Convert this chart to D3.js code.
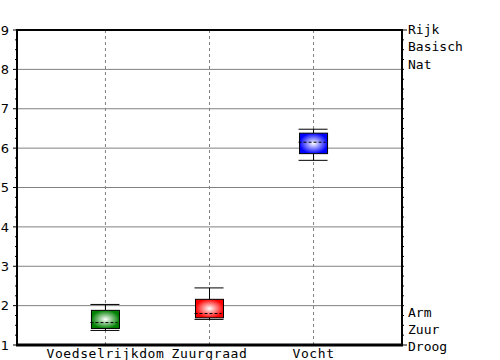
<!DOCTYPE html>
<html>
<head>
<meta charset="utf-8">
<script src="https://cdn.jsdelivr.net/npm/d3@7"></script>
<style>
  body { margin: 0; background: #fff; }
</style>
</head>
<body>
<div id="chart"></div>
<script>
// data
const categories = ["Voedselrijkdom", "Zuurgraad", "Vocht"];
const whiskerLow  = [1.37, 1.65, 5.69];
const boxLow      = [1.42, 1.69, 5.86];
const medians     = [1.57, 1.80, 6.15];
const boxHigh     = [1.88, 2.16, 6.38];
const whiskerHigh = [2.03, 2.45, 6.48];
const boxColors   = ["#008000", "#ff0000", "#0000ff"];
const yTicks      = [1, 2, 3, 4, 5, 6, 7, 8, 9];
const rightTopLabels = ["Rijk", "Basisch", "Nat"];
const rightBottomLabels = ["Arm", "Zuur", "Droog"];

const width = 500, height = 360;
const mLeft = 17, mRight = 402, mTop = 30, mBottom = 345;

const svg = d3.select("#chart")
  .append("svg")
    .attr("width", width)
    .attr("height", height);

const x = d3.scalePoint()
  .domain(categories)
  .range([mLeft, mRight])
  .padding(0.85);

const y = d3.scaleLinear()
  .domain([1, 9])
  .range([mBottom, mTop]);

// gradients for the boxes
const defs = svg.append("defs");
boxColors.forEach(function(c, i) {
  const g = defs.append("radialGradient")
    .attr("id", "grad" + i)
    .attr("cx", "50%").attr("cy", "50%").attr("r", "60%");
  g.append("stop").attr("offset", "0%").attr("stop-color", "#ffffff");
  g.append("stop").attr("offset", "85%").attr("stop-color", c);
});

// horizontal grid
svg.append("g")
  .selectAll("line")
  .data(yTicks.slice(1, -1))
  .join("line")
    .attr("x1", mLeft).attr("x2", mRight)
    .attr("y1", d => y(d)).attr("y2", d => y(d))
    .attr("stroke", "#808080")
    .attr("stroke-width", 1);

// vertical dashed grid
svg.append("g")
  .selectAll("line")
  .data(categories)
  .join("line")
    .attr("x1", d => x(d)).attr("x2", d => x(d))
    .attr("y1", mTop).attr("y2", mBottom)
    .attr("stroke", "#808080")
    .attr("stroke-dasharray", "3,3");

// left + right axis ticks (major + minor)
const minor = d3.range(1, 9.01, 0.25);
svg.append("g")
  .selectAll("line")
  .data(minor)
  .join("line")
    .attr("x1", d => Number.isInteger(d) ? mLeft - 4 : mLeft - 2)
    .attr("x2", mLeft)
    .attr("y1", d => y(d)).attr("y2", d => y(d))
    .attr("stroke", "#000");

svg.append("g")
  .selectAll("line")
  .data(minor)
  .join("line")
    .attr("x1", mRight)
    .attr("x2", d => (d === 1 || d === 9) ? mRight + 5 : mRight + 2)
    .attr("y1", d => y(d)).attr("y2", d => y(d))
    .attr("stroke", "#000");

svg.append("g")
  .selectAll("text")
  .data(yTicks)
  .join("text")
    .attr("x", mLeft - 8)
    .attr("y", d => y(d))
    .attr("dy", "0.36em")
    .attr("text-anchor", "end")
    .style("font-family", "DejaVu Sans")
    .style("font-size", "13px")
    .text(d => d);

// right labels
svg.append("g")
  .selectAll("text")
  .data(rightTopLabels)
  .join("text")
    .attr("x", mRight + 6)
    .attr("y", (d, i) => y(9) + i * 17.5)
    .attr("dy", "0.3em")
    .style("font-family", "DejaVu Sans Mono")
    .style("font-size", "13px")
    .text(d => d);

svg.append("g")
  .selectAll("text")
  .data(rightBottomLabels)
  .join("text")
    .attr("x", mRight + 6)
    .attr("y", (d, i) => y(1) + 2 - (2 - i) * 17)
    .attr("dy", "0.3em")
    .style("font-family", "DejaVu Sans Mono")
    .style("font-size", "13px")
    .text(d => d);

// boxes
const bw = 28;
const boxes = svg.append("g")
  .selectAll("g")
  .data(categories)
  .join("g");

boxes.append("line")
  .attr("x1", d => x(d)).attr("x2", d => x(d))
  .attr("y1", (d, i) => y(whiskerHigh[i])).attr("y2", (d, i) => y(boxHigh[i]))
  .attr("stroke", "#000");
boxes.append("line")
  .attr("x1", d => x(d)).attr("x2", d => x(d))
  .attr("y1", (d, i) => y(whiskerLow[i])).attr("y2", (d, i) => y(boxLow[i]))
  .attr("stroke", "#000");
boxes.append("line")
  .attr("x1", d => x(d) - bw / 2 - 1).attr("x2", d => x(d) + bw / 2)
  .attr("y1", (d, i) => y(whiskerHigh[i])).attr("y2", (d, i) => y(whiskerHigh[i]))
  .attr("stroke", "#000");
boxes.append("line")
  .attr("x1", d => x(d) - bw / 2 - 1).attr("x2", d => x(d) + bw / 2)
  .attr("y1", (d, i) => y(whiskerLow[i])).attr("y2", (d, i) => y(whiskerLow[i]))
  .attr("stroke", "#000");
boxes.append("rect")
  .attr("x", d => x(d) - bw / 2)
  .attr("y", (d, i) => y(boxHigh[i]))
  .attr("width", bw)
  .attr("height", (d, i) => y(boxLow[i]) - y(boxHigh[i]))
  .attr("fill", (d, i) => "url(#grad" + i + ")")
  .attr("stroke", "#000");
boxes.append("line")
  .attr("x1", d => x(d) - bw / 2 - 1).attr("x2", d => x(d) + bw / 2 - 2)
  .attr("y1", (d, i) => y(medians[i])).attr("y2", (d, i) => y(medians[i]))
  .attr("stroke", "#000")
  .attr("stroke-dasharray", "3,2");

// frame
svg.append("line").attr("x1", mLeft).attr("x2", mRight).attr("y1", mTop).attr("y2", mTop)
  .attr("stroke", "#000").attr("stroke-width", 2);
svg.append("line").attr("x1", mLeft).attr("x2", mLeft).attr("y1", mTop - 1).attr("y2", mBottom)
  .attr("stroke", "#000").attr("stroke-width", 2);
svg.append("line").attr("x1", mRight).attr("x2", mRight).attr("y1", mTop - 1).attr("y2", mBottom)
  .attr("stroke", "#000").attr("stroke-width", 2);
svg.append("line").attr("x1", mLeft - 1).attr("x2", mRight + 1).attr("y1", mBottom).attr("y2", mBottom)
  .attr("stroke", "#000").attr("stroke-width", 3);

// x labels
svg.append("g")
  .selectAll("text")
  .data(categories)
  .join("text")
    .attr("x", d => x(d))
    .attr("y", mBottom + 13)
    .attr("text-anchor", "middle")
    .style("font-family", "DejaVu Sans Mono")
    .style("font-size", "13px")
    .style("letter-spacing", "0.6px")
    .text(d => d);
</script>
</body>
</html>
